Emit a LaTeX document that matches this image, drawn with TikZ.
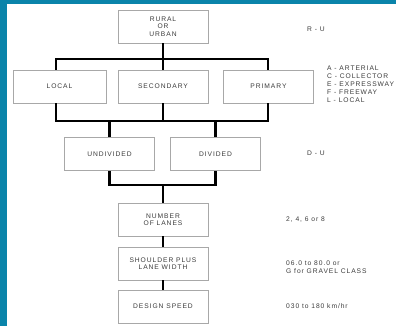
\documentclass[tikz,border=0pt]{standalone}
\usepackage{fontspec}
\setmainfont{Liberation Sans}
\newfontfamily\trk[LetterSpace=14]{Liberation Sans}
\definecolor{frameblue}{HTML}{0A84AA}
\definecolor{boxgray}{HTML}{A8A8A8}
\definecolor{txtgray}{HTML}{3C3C3C}
\begin{document}
\begin{tikzpicture}[x=1pt,y=-1pt,
  box/.style={draw=boxgray,line width=0.8pt,fill=white,minimum width=90pt,minimum height=33pt,
    inner sep=0pt,align=center,font=\trk\fontsize{6.7}{7.5}\selectfont,text=txtgray},
  lbl/.style={anchor=west,inner sep=0pt,align=left,font=\trk\fontsize{6.7}{8}\selectfont,text=txtgray},
  conn/.style={line width=2.8pt,black,line join=miter}]
\useasboundingbox (0,0) rectangle (396,326);
\fill[frameblue] (0,0) rectangle (396,326);
\fill[white] (6.5,4.5) rectangle (396,326);

\coordinate (l1) at (56,59);
\coordinate (l3) at (268,59);
\coordinate (m1) at (56,121);
\coordinate (m3) at (268,121);
\coordinate (n1) at (0,185);

\node[box] (top) at (163,26.5) {RURAL\\OR\\URBAN};
\node[box,minimum width=93pt] (local) at (59.5,86.5) {LOCAL};
\node[box] (secondary) at (163,86.5) {SECONDARY};
\node[box] (primary) at (268.5,86.5) {PRIMARY};
\node[box] (undivided) at (109.5,154) {UNDIVIDED};
\node[box] (divided) at (215.5,154) {DIVIDED};
\node[box] (lanes) at (163,219.5) {NUMBER\\OF LANES};
\node[box] (shoulder) at (163,263.5) {SHOULDER PLUS\\LANE WIDTH};
\node[box] (speed) at (163,306.5) {DESIGN SPEED};

\draw[conn] (top.south) -- (top.south |- l1);
\draw[conn] (local.north -| l1) -- (l1) -- (l3) -- (primary.north -| l3);
\draw[conn] (secondary.north) -- (secondary.north |- l1);
\draw[conn] (local.south -| m1) -- (m1) -- (m3) -- (primary.south -| m3);
\draw[conn] (secondary.south) -- (secondary.south |- m1);
\draw[conn] (undivided.north) -- (undivided.north |- m1);
\draw[conn] (divided.north) -- (divided.north |- m1);
\draw[conn] (undivided.south) -- (undivided.south |- n1) -- (divided.south |- n1) -- (divided.south);
\draw[conn] (lanes.north) -- (lanes.north |- n1);
\draw[conn] (lanes.south) -- (shoulder.north);
\draw[conn] (shoulder.south) -- (speed.north);

\node[lbl] (ru) at (307,29) {R - U};
\node[lbl] (cls) at (327,84) {A - ARTERIAL\\C - COLLECTOR\\E - EXPRESSWAY\\F - FREEWAY\\L - LOCAL};
\node[lbl] (du) at (307,153) {D - U};
\node[lbl] (nl) at (286,220) {2, 4, 6 or 8};
\node[lbl] (sw) at (286,267) {06.0 to 80.0 or\\G for GRAVEL CLASS};
\node[lbl] (ds) at (286,306) {030 to 180 km/hr};
\end{tikzpicture}
\end{document}
